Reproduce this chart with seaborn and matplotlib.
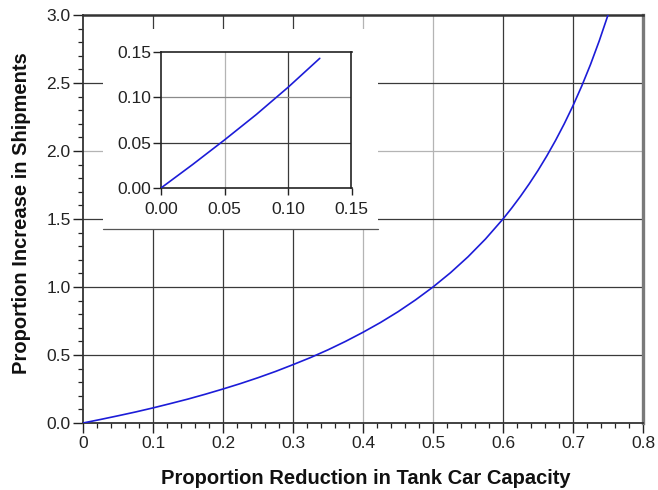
import matplotlib
matplotlib.use("Agg")
import matplotlib.pyplot as plt
from matplotlib.patches import Rectangle
from matplotlib.ticker import MultipleLocator, FormatStrFormatter
import pandas as pd
import seaborn as sns

# Proportion reduction in tank car capacity vs. proportion increase in shipments
reduction = [0.000, 0.025, 0.050, 0.075, 0.100, 0.125, 0.150, 0.175, 0.200,
             0.225, 0.250, 0.275, 0.300, 0.325, 0.350, 0.375, 0.400, 0.425,
             0.450, 0.475, 0.500, 0.525, 0.550, 0.575, 0.600, 0.6125, 0.625,
             0.6375, 0.650, 0.6625, 0.675, 0.6875, 0.700, 0.7125, 0.725,
             0.7375, 0.750]
increase = [0.000, 0.026, 0.053, 0.081, 0.111, 0.143, 0.176, 0.212, 0.250,
            0.290, 0.333, 0.379, 0.429, 0.481, 0.538, 0.600, 0.667, 0.739,
            0.818, 0.905, 1.000, 1.105, 1.222, 1.353, 1.500, 1.581, 1.667,
            1.759, 1.857, 1.963, 2.077, 2.200, 2.333, 2.478, 2.636,
            2.810, 3.000]

x_ticks = [0, 0.1, 0.2, 0.3, 0.4, 0.5, 0.6, 0.7, 0.8]
x_tick_labels = ["0", "0.1", "0.2", "0.3", "0.4", "0.5", "0.6", "0.7", "0.8"]
y_ticks = [0.0, 0.5, 1.0, 1.5, 2.0, 2.5, 3.0]
inset_ticks = [0.00, 0.05, 0.10, 0.15]

x_label = "Proportion Reduction in Tank Car Capacity"
y_label = "Proportion Increase in Shipments"

df = pd.DataFrame({"reduction": reduction, "increase": increase})
df_inset = df[df["reduction"] <= 0.125]

sns.set_theme(style="white")
plt.rcParams["font.family"] = ["Liberation Sans", "DejaVu Sans"]

DARK = "#3a3a3a"
LIGHT = "#b4b4b4"
LINE = "#1c1cd8"
TICK_FS = 12.5
LABEL_FS = 14.5

fig = plt.figure(figsize=(6.58, 4.90), dpi=100)
ax = fig.add_axes([83 / 658, 1 - 423 / 490, 560 / 658, 408 / 490])

# grid, drawn line by line so each can carry its own shade
vgrid_shade = {0.1: DARK, 0.2: DARK, 0.3: DARK, 0.4: LIGHT, 0.5: LIGHT, 0.6: DARK, 0.7: DARK}
hgrid_shade = {0.5: DARK, 1.0: DARK, 1.5: DARK, 2.0: LIGHT, 2.5: DARK}
for v, c in vgrid_shade.items():
    ax.axvline(v, color=c, lw=0.9, zorder=1)
for h, c in hgrid_shade.items():
    ax.axhline(h, color=c, lw=0.9, zorder=1)

sns.lineplot(data=df, x="reduction", y="increase", ax=ax, color=LINE,
             lw=1.2, zorder=3)

# white panel behind the inset
ax.add_patch(Rectangle((0.0286, 1.4265), 0.3928, 1.47, facecolor="white",
                       edgecolor="none", zorder=2))
ax.plot([0.0286, 0.4214], [1.4265, 1.4265], color="#555555", lw=0.9, zorder=2)

ax.set_xlim(0, 0.8)
ax.set_ylim(0, 3.0)
ax.set_xticks(x_ticks)
ax.set_xticklabels(x_tick_labels)
ax.set_yticks(y_ticks)
ax.yaxis.set_major_formatter(FormatStrFormatter("%.1f"))
ax.xaxis.set_minor_locator(MultipleLocator(0.02))
ax.yaxis.set_minor_locator(MultipleLocator(0.1))
ax.tick_params(axis="both", which="major", direction="out", length=7, width=1.0,
               color="#222222", labelsize=TICK_FS, labelcolor="#222222", pad=2,
               bottom=True, left=True)
ax.tick_params(axis="both", which="minor", direction="out", length=3.5, width=0.9,
               color="#222222", bottom=True, left=True)

ax.set_xlabel(x_label, fontsize=LABEL_FS, fontweight="bold", color="#111111")
ax.set_ylabel(y_label, fontsize=LABEL_FS, fontweight="bold", color="#111111")
ax.xaxis.set_label_coords(0.505, -0.135)
ax.xaxis.label.set_va("center")
ax.yaxis.set_label_coords(-0.11, 0.515)
ax.yaxis.label.set_va("center")

for side in ["left", "bottom", "top"]:
    ax.spines[side].set_color("#333333")
    ax.spines[side].set_linewidth(1.3)
ax.spines["top"].set_linewidth(1.8)
ax.spines["right"].set_color("#7a7a7a")
ax.spines["right"].set_linewidth(2.4)

# inset: the small-reduction end of the same curve
axin = fig.add_axes([161 / 658, 1 - 188 / 490, 190.5 / 658, 136 / 490])
inset_vshade = {0.05: LIGHT, 0.10: DARK}
inset_hshade = {0.05: DARK, 0.10: "#8a8a8a"}
for v, c in inset_vshade.items():
    axin.axvline(v, color=c, lw=0.9, zorder=1)
for h, c in inset_hshade.items():
    axin.axhline(h, color=c, lw=0.9, zorder=1)
sns.lineplot(data=df_inset, x="reduction", y="increase", ax=axin, color=LINE,
             lw=1.2, zorder=3)
axin.set_xlim(0, 0.15)
axin.set_ylim(0, 0.15)
axin.set_xticks(inset_ticks)
axin.set_yticks(inset_ticks)
axin.xaxis.set_major_formatter(FormatStrFormatter("%.2f"))
axin.yaxis.set_major_formatter(FormatStrFormatter("%.2f"))
axin.tick_params(axis="both", which="major", direction="out", width=1.0,
                 color="#222222", labelsize=TICK_FS, labelcolor="#222222",
                 bottom=True, left=True)
axin.tick_params(axis="x", length=5, pad=5)
axin.tick_params(axis="y", length=6, pad=1)
axin.set_xlabel("")
axin.set_ylabel("")
for side in ["left", "bottom", "top", "right"]:
    axin.spines[side].set_color("#222222")
    axin.spines[side].set_linewidth(1.2)

fig.savefig("out.png", dpi=100)
